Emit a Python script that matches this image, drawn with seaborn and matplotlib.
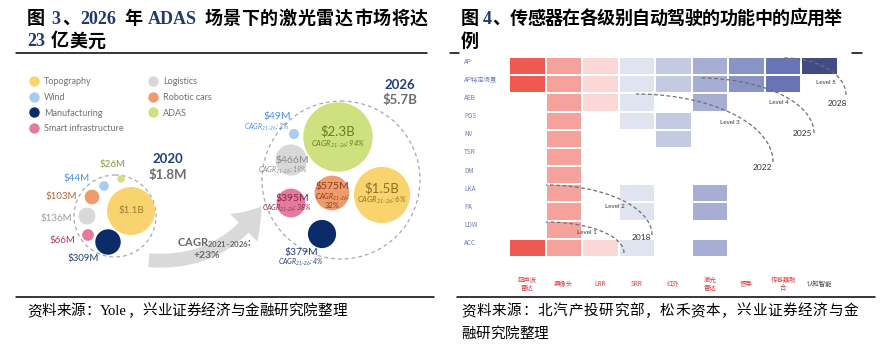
import numpy as np
import pandas as pd
import matplotlib
matplotlib.use("Agg")
import matplotlib.pyplot as plt
import seaborn as sns
from matplotlib.colors import ListedColormap
from matplotlib.patches import Circle, FancyArrowPatch
from matplotlib.lines import Line2D

# ---------------- data ----------------
segments = ["Topography", "Wind", "Manufacturing", "Smart infrastructure",
            "Logistics", "Robotic cars", "ADAS"]
seg_colors = ["#F8D36E", "#A9CCF4", "#0C2C69", "#E37C9C", "#D8D8D8", "#EE9B6D", "#CFE07E"]
val_2020 = [1100, 44, 309, 66, 136, 103, 26]        # $M
val_2026 = [1500, 49, 379, 395, 466, 575, 2300]     # $M
cagr_21_26 = [6, 2, 4, 38, 19, 32, 94]              # %
total_2020_label = "$1.8M"
total_2026_label = "$5.7B"
market_cagr = "+23%"

functions = ["AP", "AP特定场景", "AEB", "PDS", "NV", "TSR", "DM", "LKA", "PA", "LDW", "ACC"]
sensors = ["超声波\n雷达", "摄像头", "LRR", "SRR", "红外", "激光\n雷达", "惯导", "传感器融\n合", "认知智能"]
usage = [
    [1, 1, 1, 1, 1, 1, 1, 1, 1],
    [1, 1, 1, 1, 1, 1, 1, 1, 0],
    [0, 1, 1, 1, 0, 1, 0, 0, 0],
    [0, 1, 0, 1, 1, 0, 0, 0, 0],
    [0, 1, 0, 0, 1, 0, 0, 0, 0],
    [0, 1, 0, 0, 0, 0, 0, 0, 0],
    [0, 1, 0, 0, 0, 0, 0, 0, 0],
    [0, 1, 0, 1, 0, 1, 0, 0, 0],
    [0, 1, 0, 1, 0, 1, 0, 0, 0],
    [0, 1, 0, 0, 0, 0, 0, 0, 0],
    [1, 1, 1, 1, 0, 1, 0, 0, 0],
]
levels = ["Level 1", "Level 2", "Level 3", "Level 4", "Level 5"]
level_years = ["2018", "2018", "2022", "2025", "2028"]

# ---------------- style / layout ----------------
sensor_colors = ["#EE5A4F", "#F4A29B", "#FBD8D5", "#E0E3F0", "#C5CAE3",
                 "#A6AED4", "#8893C6", "#6874B5", "#414C85"]
label_colors = ["#9A7B2F", "#4C8FE0", "#24407F", "#B8395F", "#9B9B9B", "#B4643A", "#8A9A35"]
label_colors_26 = ["#8F6F25", "#4C8FE0", "#24407F", "#8C2348", "#8A8A8A", "#8A3A1C", "#6B7A27"]

pos_2020 = [(131, 211), (104, 186), (108, 242), (88, 235), (87, 216), (92, 197), (121, 179)]
pos_2026 = [(382, 195), (294, 134), (322, 234), (291, 203), (291, 160), (332, 193), (338, 137)]
lab_2020 = [(131, 211), (77, 178), (83, 259), (62, 241), (56, 219), (61, 197), (112, 165)]
lab_2026 = [(382, 188), (277, 117), (301, 252), (292, 198), (292, 160), (332, 186), (338, 131)]
cagr_pos = [(382, 200), (267, 127), (301, 262), (287, 208), (283, 170), (332, 197), (338, 144)]

sns.set_theme(style="white")
plt.rcParams["font.family"] = ["Lato", "Noto Sans CJK SC", "DejaVu Sans"]
plt.rcParams["mathtext.default"] = "regular"
CJK = ["Noto Sans CJK SC", "DejaVu Sans"]
SERIF = ["Liberation Serif", "Noto Sans CJK SC"]

W, H = 888, 363
fig = plt.figure(figsize=(W / 100, H / 100), dpi=100)
fig.patch.set_facecolor("white")
renderer = fig.canvas.get_renderer()


def fx(x):
    return x / W


def fy(y):
    return 1 - y / H


def hline(x0, x1, y, lw=1.1):
    fig.add_artist(Line2D([fx(x0), fx(x1)], [fy(y), fy(y)], color="black", lw=lw))


def is_wide(ch):
    return ord(ch) > 0x2E7F


def place_line(x0, base_y, pieces, size, weight="normal", family=SERIF, x_end=None):
    """Place a line of mixed CJK / Latin text; Latin runs kept whole."""
    em = size / 72 * 100
    # tokens: (text, color, kind)
    tokens = []
    for txt, col in pieces:
        for ch in txt:
            if ch == " ":
                tokens.append([ch, col, "space"])
            elif is_wide(ch):
                tokens.append([ch, col, "wide"])
            else:
                if tokens and tokens[-1][2] == "latin" and tokens[-1][1] == col:
                    tokens[-1][0] += ch
                else:
                    tokens.append([ch, col, "latin"])
    adv = []
    for txt, col, kind in tokens:
        if kind == "space":
            adv.append(0.25 * em)
        elif kind == "wide":
            adv.append(em)
        else:
            t = fig.text(0, 0, txt, fontsize=size, weight=weight, family=family)
            w = t.get_window_extent(renderer).width
            t.remove()
            adv.append(w + 0.08 * em)
    extra = 0.0
    if x_end is not None and len(tokens) > 1:
        extra = (x_end - x0 - sum(adv)) / (len(tokens) - 1)
    x = x0
    for (txt, col, kind), a in zip(tokens, adv):
        if kind != "space":
            fig.text(fx(x), fy(base_y), txt, fontsize=size, weight=weight, family=family,
                     color=col, ha="left", va="baseline")
        x += a + extra


NAVY = "#203A6E"
# titles
place_line(27, 23.5, [("图 ", "black"), ("3", NAVY), ("、", "black"), ("2026", NAVY),
                      (" 年 ", "black"), ("ADAS", NAVY), (" 场景下的激光雷达市场将达", "black")],
           13, weight="bold", x_end=428)
place_line(27, 46.5, [("23", NAVY), (" 亿美元", "black")], 13, weight="bold")
place_line(461, 23.5, [("图 ", "black"), ("4", NAVY), ("、传感器在各级别自动驾驶的功能中的应用举", "black")],
           13, weight="bold", x_end=842)
place_line(461, 46.5, [("例", "black")], 13, weight="bold")

hline(16, 427, 52.5)
hline(450, 459, 52.5)
hline(852, 862, 52.5)
hline(16, 434, 297)
hline(457, 875, 297)

# footers
place_line(27, 315, [("资料来源：Yole，兴业证券经济与金融研究院整理", "black")], 10.5)
place_line(461, 315, [("资料来源：北汽产投研究部，松禾资本，兴业证券经济与金", "black")], 10.5, x_end=858)
place_line(461, 338, [("融研究院整理", "black")], 10.5)

# ---------------- left: bubble chart ----------------
axL = fig.add_axes([0, 0, 444 / W, 1])
df_b = pd.DataFrame({
    "segment": segments * 2,
    "year": ["2020"] * 7 + ["2026"] * 7,
    "value": val_2020 + val_2026,
    "x": [p[0] for p in pos_2020 + pos_2026],
    "y": [p[1] for p in pos_2020 + pos_2026],
})
K = 1.086
vmin, vmax = df_b["value"].min(), df_b["value"].max()
sns.scatterplot(data=df_b, x="x", y="y", hue="segment", palette=dict(zip(segments, seg_colors)),
                size="value", sizes=(K * vmin, K * vmax), size_norm=(vmin, vmax),
                linewidth=0, legend=False, ax=axL, zorder=3)
axL.set_xlim(0, 444)
axL.set_ylim(H, 0)
axL.axis("off")

axL.add_patch(Circle((115, 216), 41, fill=False, ec="#A8A8A8", lw=0.9, ls=(0, (3, 2.5)), zorder=2))
axL.add_patch(Circle((341, 180), 79, fill=False, ec="#A8A8A8", lw=0.9, ls=(0, (3, 2.5)), zorder=2))


def fmt(v):
    return f"${v / 1000:.1f}B" if v >= 1000 else f"${v}M"


for i, seg in enumerate(segments):
    x, y = lab_2020[i]
    axL.text(x, y, fmt(val_2020[i]), color=label_colors[i], fontsize=7, ha="center",
             va="center", zorder=5)
    x, y = lab_2026[i]
    big = val_2026[i] >= 1000
    axL.text(x, y, fmt(val_2026[i]), color=label_colors_26[i], fontsize=9.5 if big else 7.5,
             ha="center", va="center", zorder=5)
    cx, cy = cagr_pos[i]
    if seg == "Robotic cars":
        axL.text(cx, cy, "CAGR$_{21–26}$:", color=label_colors_26[i], fontsize=5,
                 style="italic", ha="center", va="center", zorder=5)
        axL.text(cx, cy + 8, f"{cagr_21_26[i]}%", color=label_colors_26[i], fontsize=5.5,
                 ha="center", va="center", zorder=5)
    else:
        axL.text(cx, cy, f"CAGR$_{{21–26}}$: {cagr_21_26[i]}%", color=label_colors_26[i],
                 fontsize=5.5 if big else 5, style="italic", ha="center", va="center", zorder=5)

axL.text(168, 159, "2020", fontsize=9.5, weight="bold", color="#1F3F7A", ha="center", va="center")
axL.text(168, 175, total_2020_label, fontsize=9.5, weight="bold", color="#6E6E6E", ha="center", va="center")
axL.text(400, 85, "2026", fontsize=9.5, weight="bold", color="#1F3F7A", ha="center", va="center")
axL.text(400, 100, total_2026_label, fontsize=9.5, weight="bold", color="#6E6E6E", ha="center", va="center")

arrow = FancyArrowPatch((146, 260), (263, 204), connectionstyle="arc3,rad=0.3",
                        arrowstyle="simple,head_width=28,head_length=20,tail_width=10",
                        mutation_scale=1, color="#D9D9D9", lw=0, zorder=1)
axL.add_patch(arrow)
axL.text(177, 243, "CAGR$_{2021–2026}$:", fontsize=8, weight="bold", color="#666666",
         ha="left", va="center", zorder=4)
axL.text(207, 255, market_cagr, fontsize=7.5, weight="bold", color="#666666",
         ha="center", va="center", zorder=4)

handles = [Line2D([], [], marker="o", ls="", markersize=7.5, markerfacecolor=c,
                  markeredgewidth=0) for c in seg_colors]
axL.legend(handles, segments, ncol=2, loc="upper left", bbox_to_anchor=(29.5 / 444, 1 - 77 / H),
           frameon=False, fontsize=6.5, labelspacing=0.75, handlelength=1.0, handletextpad=0.6,
           columnspacing=2.8, borderpad=0, borderaxespad=0, labelcolor="#707070")

# ---------------- right: heatmap ----------------
x0p, x1p, y0p, y1p = 509, 838, 57, 257
axH = fig.add_axes([fx(x0p), fy(y1p), (x1p - x0p) / W, (y1p - y0p) / H])
usage_arr = np.array(usage, dtype=float)
vals = np.where(usage_arr > 0, np.arange(len(sensors))[None, :], np.nan)
df_h = pd.DataFrame(vals, index=functions, columns=sensors)
sns.heatmap(df_h, cmap=ListedColormap(sensor_colors), vmin=-0.5, vmax=len(sensors) - 0.5,
            cbar=False, linewidths=1.2, linecolor="white", ax=axH)
axH.set_xlabel("")
axH.set_ylabel("")
axH.set_yticks(np.arange(len(functions)) + 0.25)
axH.set_yticklabels(functions, family=CJK, fontsize=4.6, color="#6E7BB5", rotation=0)
for lab in axH.get_yticklabels():
    lab.set_ha("left")
axH.tick_params(axis="y", length=0, pad=45 * 0.72)
axH.set_xticks(np.arange(len(sensors)) + 0.5)
axH.set_xticklabels(sensors, family=CJK, fontsize=4.6, rotation=0, linespacing=1.15)
for i, lab in enumerate(axH.get_xticklabels()):
    lab.set_color("#444444" if i == len(sensors) - 1 else "#D9423F")
    lab.set_va("center")
axH.tick_params(axis="x", length=0, pad=27 * 0.72)

cw = (x1p - x0p) / len(sensors)
rh = (y1p - y0p) / len(functions)


def dx(px):
    return (px - x0p) / cw


def dy(py):
    return (py - y0p) / rh


arcs = [((546, 222), (624, 253)), ((546, 185), (652, 235)), ((636, 94), (773, 162)),
        ((699, 78), (814, 133)), ((784, 58), (846, 95))]
level_pos = [(587, 232), (615, 207), (730, 122), (779, 102), (826, 82)]
year_pos = [None, (641, 238), (762, 167), (802, 134), (837, 104)]
for (s, e), lp, yp, lv, yr in zip(arcs, level_pos, year_pos, levels, level_years):
    t = np.linspace(0, np.pi / 2, 80)
    cx, cy = dx(s[0]), dy(e[1])
    a, b = dx(e[0]) - dx(s[0]), dy(e[1]) - dy(s[1])
    axH.plot(cx + a * np.cos(t), cy - b * np.sin(t), ls=(0, (3, 2)), color="#707070",
             lw=0.9, clip_on=False, zorder=4)
    axH.text(dx(lp[0]), dy(lp[1]), lv, fontsize=4.5, color="#333333", ha="center",
             va="center", zorder=5, clip_on=False)
    if yp is not None:
        axH.text(dx(yp[0]), dy(yp[1]), yr, fontsize=6, color="#333333", ha="center",
                 va="center", zorder=5, clip_on=False)

fig.savefig("out.png", dpi=100, facecolor="white")
